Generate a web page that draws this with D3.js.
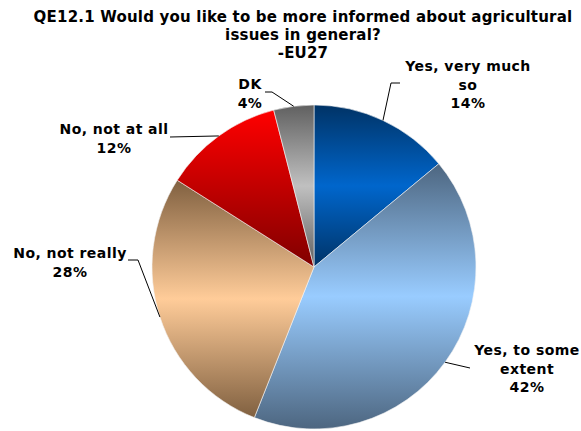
<!DOCTYPE html>
<html>
<head>
<meta charset="utf-8">
<script src="https://cdn.jsdelivr.net/npm/d3@7"></script>
<style>
  body { margin: 0; background: #fff; }
  text { font-family: "DejaVu Sans", Verdana, sans-serif; font-weight: bold; fill: #000; }
</style>
</head>
<body>
<div id="chart"></div>
<script>
// data
var title_lines = ["QE12.1 Would you like to be more informed about agricultural", "issues in general?", "-EU27"];
var categories = ["Yes, very much so", "Yes, to some extent", "No, not really", "No, not at all", "DK"];
var values = [14, 42, 28, 12, 4];
var label_lines = [["Yes, very much", "so"], ["Yes, to some", "extent"], ["No, not really"], ["No, not at all"], ["DK"]];

// colour stops for each slice gradient (top -> bottom)
var gradients = [
	["#003366", "#0066cc", "#003366"],
	["#4d6680", "#99ccff", "#4d6680"],
	["#806040", "#ffcc99", "#806040"],
	["#ff0000", "#c00000", "#800000"],
	["#606060", "#c0c0c0", "#606060"]
];

// label placement: text centre x, first line centre y, elbow of the leader line
var label_layout = [
	{x: 468, y: 66, elbow: [[391, 83], [400, 83]]},
	{x: 527, y: 350, elbow: [[470, 368]]},
	{x: 70, y: 253, elbow: [[138, 260], [128, 260]]},
	{x: 114, y: 129, elbow: [[170, 137]]},
	{x: 250, y: 84, elbow: [[272, 92], [265, 92]]}
];

var width = 581, height = 431;
var cx = 314, cy = 267, radius = 162;
var line_height = 18.5;

var svg = d3.select("#chart").append("svg")
	.attr("width", width)
	.attr("height", height);

var defs = svg.append("defs");
gradients.forEach(function (stops, i) {
	var g = defs.append("linearGradient")
		.attr("id", "grad" + i)
		.attr("x1", 0).attr("y1", 0).attr("x2", 0).attr("y2", 1);
	stops.forEach(function (c, j) {
		g.append("stop")
			.attr("offset", (j / (stops.length - 1) * 100) + "%")
			.attr("stop-color", c);
	});
});

// title
svg.append("g").selectAll("text")
	.data(title_lines)
	.enter()
	.append("text")
	.attr("x", 303)
	.attr("y", function (d, i) { return 17 + i * 18; })
	.attr("dy", "0.36em")
	.attr("text-anchor", "middle")
	.style("font-size", "15px")
	.style("letter-spacing", "0.2px")
	.text(function (d) { return d; });

var pie = d3.pie().sort(null).value(function (d) { return d; });
var arc = d3.arc().innerRadius(0).outerRadius(radius);
var arcs = pie(values);

var g = svg.append("g")
	.attr("transform", "translate(" + cx + "," + cy + ")");

g.selectAll("path")
	.data(arcs)
	.enter()
	.append("path")
	.attr("d", arc)
	.attr("fill", function (d, i) { return "url(#grad" + i + ")"; })
	.attr("stroke", "#f4f4f4")
	.attr("stroke-width", 0.6);

// leader lines, starting on the rim at the slice mid angle
var line = d3.line();
svg.append("g").selectAll("path")
	.data(arcs)
	.enter()
	.append("path")
	.attr("fill", "none")
	.attr("stroke", "#000")
	.attr("stroke-width", 1)
	.attr("d", function (d, i) {
		var a = (d.startAngle + d.endAngle) / 2;
		var start = [cx + radius * Math.sin(a), cy - radius * Math.cos(a)];
		return line([start].concat(label_layout[i].elbow));
	});

// labels
var labels = svg.append("g").selectAll("text")
	.data(arcs)
	.enter()
	.append("text")
	.attr("text-anchor", "middle")
	.style("font-size", "14px")
	.style("letter-spacing", "0.45px");

labels.each(function (d, i) {
	var lines = label_lines[i].concat([values[i] + "%"]);
	var t = d3.select(this);
	lines.forEach(function (s, j) {
		t.append("tspan")
			.attr("x", label_layout[i].x)
			.attr("y", label_layout[i].y + j * line_height)
			.attr("dy", "0.36em")
			.text(s);
	});
});
</script>
</body>
</html>
